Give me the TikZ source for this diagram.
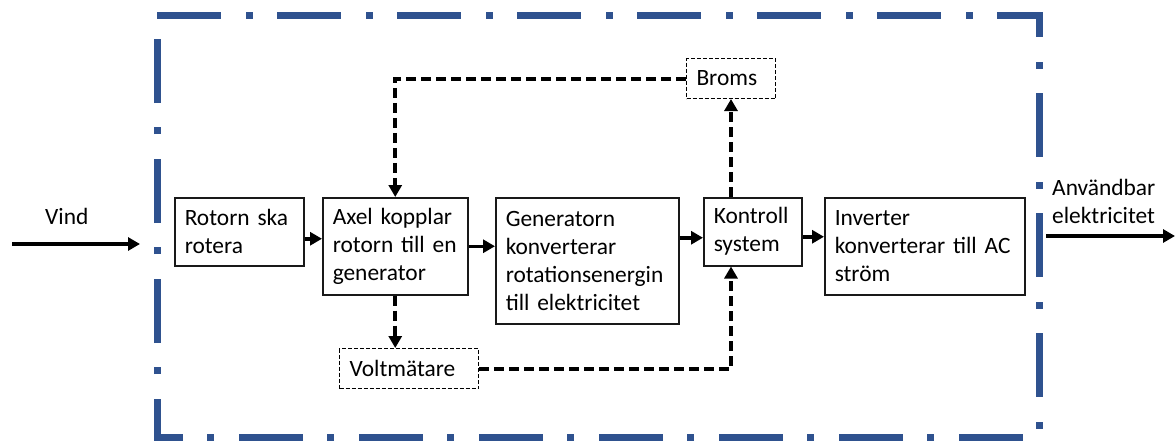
\documentclass[tikz,border=0pt]{standalone}
\usepackage{fontspec}
\setmainfont{Carlito}
\usetikzlibrary{arrows.meta}
\definecolor{frameblue}{RGB}{47,82,143}
\tikzset{
  txt/.style={font=\fontsize{23.4}{28}\selectfont, text=black},
  blk/.style={txt, draw=black!90, line width=1.5pt, anchor=north west, align=left,
    inner xsep=10pt, inner ysep=0pt},
  dblk/.style={txt, draw=black, line width=1pt, dash pattern=on 4pt off 2pt,
    anchor=north west, align=left, inner xsep=10pt, inner ysep=0pt},
  sarrow/.style={line width=3.5pt, -{Triangle[length=12pt,width=13pt]}},
  darrow/.style={line width=4pt, dash pattern=on 10pt off 5pt, -{Triangle[length=12pt,width=13pt]}},
  frame/.style={draw=frameblue, line width=7pt, dash pattern=on 64pt off 25pt on 7pt off 24pt, line join=miter}
}
\begin{document}
\begin{tikzpicture}[x=1pt,y=-1pt]
\useasboundingbox (0,0) rectangle (1176,442);
% outer frame
\draw[frame] (157,15) -- (1039,15) -- (1039,437) -- (157,437) -- cycle;

% blocks
\node[blk, minimum width=129pt, minimum height=68pt, text width=109pt] (b1) at (174,197) {Rotorn ska\\rotera};
\node[blk, minimum width=145pt, minimum height=97pt, text width=125pt] (b2) at (322,197) {Axel kopplar\\rotorn till en\\generator};
\node[blk, minimum width=183pt, minimum height=126pt, text width=163pt] (b3) at (495,197) {Generatorn\\konverterar\\rotationsenergin\\till elektricitet};
\node[blk, minimum width=98pt, minimum height=68pt, text width=78pt] (b4) at (703,197) {Kontroll\\system};
\node[blk, minimum width=200pt, minimum height=97pt, text width=180pt] (b5) at (824,197) {Inverter\\konverterar till AC\\str\"om};
\node[dblk, minimum width=89pt, minimum height=40pt, text width=69pt] (br) at (686,58) {Broms};
\node[dblk, minimum width=139pt, minimum height=40pt, text width=119pt] (vm) at (339,348) {Voltm\"atare};

% labels
\node[txt, anchor=north west, inner sep=0pt] (vind) at (45,208) {Vind};
\node[txt, anchor=north west, inner sep=0pt, align=left] (ut) at (1052,179) {Anv\"andbar\\elektricitet};

% free ends
\coordinate (vs) at (12,244);
\coordinate (ve) at (140,244);
\coordinate (us) at (1046,236);
\coordinate (ue) at (1175,236);

% solid arrows
\draw[sarrow] (vs) -- (ve);
\draw[sarrow] ([yshift=-7pt]b1.east) -- ([yshift=-7pt]b1.east -| b2.west);
\draw[sarrow] (b2.east) -- (b2.east -| b3.west);
\draw[sarrow] ([yshift=-6pt]b4.west -| b3.east) -- ([yshift=-6pt]b4.west);
\draw[sarrow] ([yshift=-5pt]b4.east) -- ([yshift=-5pt]b4.east -| b5.west);
\draw[sarrow] (us) -- (ue);

% dashed arrows
\draw[darrow] (br.west) -| (b2.north);
\draw[darrow] (b4.north -| br.south) -- (br.south);
\draw[darrow] (b2.south) -- (b2.south |- vm.north);
\draw[darrow] (vm.east) -| (br.south |- b4.south);
\end{tikzpicture}
\end{document}
